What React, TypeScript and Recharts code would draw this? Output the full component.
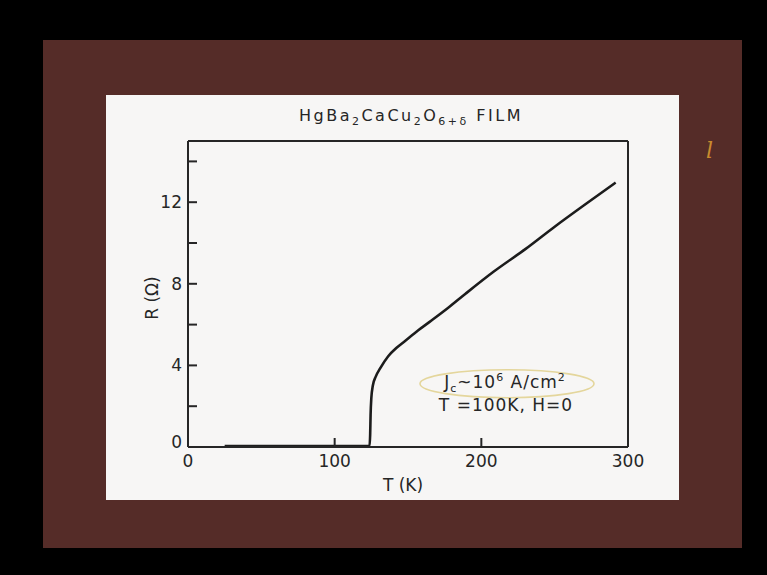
import React from 'react';
import { LineChart, Line, XAxis, YAxis, ReferenceDot } from 'recharts';

// R(T) of the HgBa2CaCu2O6+d film
const temperature = [25, 60, 100, 123.8, 124.2, 124.5, 125.0, 126.0, 128.0, 131, 136.5, 142, 148, 157, 166, 177, 189, 208.5, 230, 250, 270, 291.6];
const resistance = [0.05, 0.05, 0.05, 0.05, 0.6, 1.6, 2.4, 3.0, 3.45, 3.85, 4.45, 4.85, 5.2, 5.72, 6.2, 6.8, 7.5, 8.6, 9.7, 10.8, 11.85, 12.96];

const xTicks = [0, 100, 200, 300];
const xInnerTicks = [100, 200];
const yTicks = [0, 2, 4, 6, 8, 10, 12, 14];
const yLabelled = [0, 4, 8, 12];

const data = temperature.map((t, i) => ({ t, r: resistance[i] }));

const ink = '#262626';
const font = '"DejaVu Sans", sans-serif';
const TICK = 9;

const BottomTick = (props: any) => {
  const { x, y, payload } = props;
  const showLine = xInnerTicks.includes(payload.value);
  return (
    <g>
      {showLine && <line x1={x} y1={y} x2={x} y2={y - TICK} stroke={ink} strokeWidth={2} />}
      <text x={x} y={y + 20} textAnchor="middle" fill={ink} fontSize={17} fontFamily={font}>
        {payload.value}
      </text>
    </g>
  );
};

const TopTick = (props: any) => {
  const { x, y } = props;
  return <line x1={x} y1={y} x2={x} y2={y + TICK} stroke={ink} strokeWidth={2} />;
};

const LeftTick = (props: any) => {
  const { x, y, payload } = props;
  const v = payload.value;
  return (
    <g>
      <line x1={x} y1={y} x2={x + TICK} y2={y} stroke={ink} strokeWidth={2} />
      {yLabelled.includes(v) && (
        <text x={x - 6} y={v === 0 ? y + 1 : y + 6} textAnchor="end" fill={ink} fontSize={17} fontFamily={font}>
          {v}
        </text>
      )}
    </g>
  );
};

const RightTick = (props: any) => {
  const { x, y } = props;
  return <line x1={x} y1={y} x2={x - TICK} y2={y} stroke={ink} strokeWidth={2} />;
};

const Oval = (props: any) => (
  <ellipse cx={props.cx} cy={props.cy} rx={87} ry={14} fill="none" stroke="#e4d69c" strokeWidth={1.6} />
);

const sub = { fontSize: 11, position: 'relative' as const, top: 4 };
const sup = { fontSize: 11, position: 'relative' as const, top: -7 };

export default function App() {
  return (
    <div style={{ position: 'absolute', left: 0, top: 0, width: 767, height: 575, background: '#000', overflow: 'hidden', fontFamily: font, color: ink }}>
      <div style={{ position: 'absolute', left: 43, top: 40, width: 699, height: 508, background: '#552c28' }} />
      <div style={{ position: 'absolute', left: 106, top: 95, width: 573, height: 405, background: '#f7f6f5' }} />

      <div style={{ position: 'absolute', left: 0, top: 0 }}>
        <LineChart width={767} height={575} data={data} margin={{ top: 131, right: 129, bottom: 88, left: 148 }}>
          <XAxis
            dataKey="t"
            type="number"
            domain={[0, 300]}
            ticks={xTicks}
            interval={0}
            height={40}
            tickSize={0}
            tickMargin={0}
            tickLine={false}
            tick={<BottomTick />}
            axisLine={{ stroke: ink, strokeWidth: 2 }}
          />
          <XAxis
            xAxisId="top"
            orientation="top"
            type="number"
            domain={[0, 300]}
            ticks={xInnerTicks}
            interval={0}
            height={10}
            tickSize={0}
            tickMargin={0}
            tickLine={false}
            tick={<TopTick />}
            axisLine={{ stroke: ink, strokeWidth: 2 }}
          />
          <YAxis
            type="number"
            domain={[0, 15]}
            ticks={yTicks}
            interval={0}
            width={40}
            tickSize={0}
            tickMargin={0}
            tickLine={false}
            tick={<LeftTick />}
            axisLine={{ stroke: ink, strokeWidth: 2 }}
          />
          <YAxis
            yAxisId="right"
            orientation="right"
            type="number"
            domain={[0, 15]}
            ticks={yTicks}
            interval={0}
            width={10}
            tickSize={0}
            tickMargin={0}
            tickLine={false}
            tick={<RightTick />}
            axisLine={{ stroke: ink, strokeWidth: 2 }}
          />
          <ReferenceDot x={217.5} y={3.1} shape={<Oval />} />
          <Line
            type="monotone"
            dataKey="r"
            stroke="#1c1c1c"
            strokeWidth={2.6}
            dot={false}
            isAnimationActive={false}
          />
        </LineChart>
      </div>

      <div style={{ position: 'absolute', left: 211, top: 106, width: 400, textAlign: 'center', fontSize: 16, lineHeight: '20px', letterSpacing: 2.5, whiteSpace: 'nowrap' }}>
        HgBa<span style={sub}>2</span>CaCu<span style={sub}>2</span>O<span style={sub}>6+δ</span> FILM
      </div>

      <div style={{ position: 'absolute', left: 122, top: 288, width: 60, height: 20, lineHeight: '20px', textAlign: 'center', fontSize: 17, transform: 'rotate(-90deg)', whiteSpace: 'nowrap' }}>
        R (Ω)
      </div>
      <div style={{ position: 'absolute', left: 363, top: 475, width: 80, lineHeight: '20px', textAlign: 'center', fontSize: 17, whiteSpace: 'nowrap' }}>
        T (K)
      </div>

      <div style={{ position: 'absolute', left: 405, top: 372, width: 200, lineHeight: '20px', textAlign: 'center', fontSize: 17, letterSpacing: 1, whiteSpace: 'nowrap' }}>
        J<span style={sub}>c</span>~10<span style={sup}>6</span> A/cm<span style={sup}>2</span>
      </div>
      <div style={{ position: 'absolute', left: 406, top: 395, width: 200, lineHeight: '20px', textAlign: 'center', fontSize: 17, letterSpacing: 1, whiteSpace: 'nowrap' }}>
        T =100K, H=0
      </div>

      <div style={{ position: 'absolute', left: 706, top: 138, fontSize: 22, fontStyle: 'italic', color: '#c98a2e', fontFamily: '"DejaVu Serif", serif' }}>
        l
      </div>
    </div>
  );
}
